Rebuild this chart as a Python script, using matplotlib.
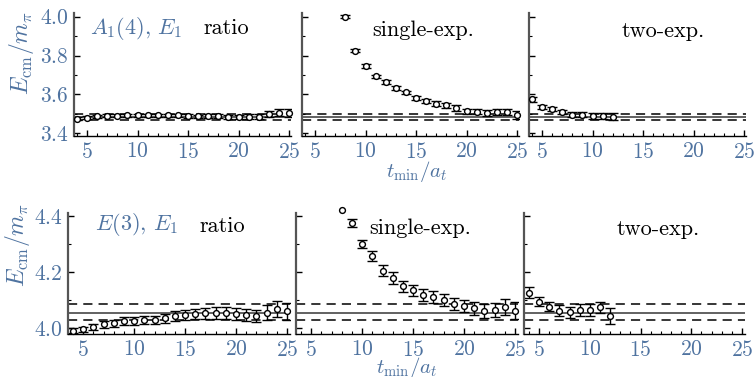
import numpy as np
import matplotlib.pyplot as plt

plt.rcParams['font.family'] = 'serif'
plt.rcParams['font.serif'] = ['cmr10', 'DejaVu Serif']
plt.rcParams['mathtext.fontset'] = 'cm'
plt.rcParams['axes.formatter.use_mathtext'] = True

# Daten oben: A1(4), E1
t_ratio = np.arange(4, 26)
y_ratio_top = [3.475, 3.48, 3.487, 3.49, 3.49, 3.492, 3.492, 3.493, 3.493, 3.492, 3.492,
               3.49, 3.487, 3.49, 3.487, 3.485, 3.485, 3.485, 3.485, 3.50, 3.505, 3.505]
e_ratio_top = [0.008, 0.007, 0.008, 0.008, 0.008, 0.008, 0.008, 0.008, 0.008, 0.008, 0.008,
               0.009, 0.009, 0.01, 0.01, 0.01, 0.01, 0.012, 0.012, 0.016, 0.018, 0.02]
t_single = np.arange(8, 26)
y_single_top = [4.0, 3.825, 3.745, 3.693, 3.663, 3.632, 3.61, 3.582, 3.567, 3.553,
                3.544, 3.53, 3.514, 3.512, 3.505, 3.509, 3.509, 3.495]
e_single_top = [0.008, 0.008, 0.009, 0.009, 0.009, 0.01, 0.01, 0.01, 0.01, 0.011,
                0.012, 0.013, 0.013, 0.014, 0.015, 0.016, 0.017, 0.022]
t_two = np.arange(4, 13)
y_two_top = [3.574, 3.535, 3.526, 3.509, 3.495, 3.495, 3.488, 3.488, 3.486]
e_two_top = [0.012, 0.009, 0.01, 0.012, 0.012, 0.013, 0.016, 0.017, 0.018]
fit_top = [3.47, 3.485, 3.50]

# Daten unten: E(3), E1
y_ratio_bot = [3.992, 3.996, 4.006, 4.014, 4.018, 4.026, 4.026, 4.03, 4.03, 4.036, 4.044,
               4.048, 4.051, 4.054, 4.054, 4.054, 4.05, 4.048, 4.044, 4.056, 4.069, 4.06]
e_ratio_bot = [0.008, 0.01, 0.011, 0.011, 0.012, 0.013, 0.014, 0.015, 0.015, 0.016, 0.017,
               0.018, 0.019, 0.02, 0.021, 0.021, 0.022, 0.022, 0.023, 0.026, 0.03, 0.03]
y_single_bot = [4.421, 4.375, 4.30, 4.258, 4.205, 4.179, 4.149, 4.135, 4.119, 4.111,
                4.101, 4.087, 4.08, 4.071, 4.063, 4.065, 4.075, 4.062]
e_single_bot = [0.0, 0.015, 0.015, 0.017, 0.02, 0.02, 0.02, 0.02, 0.02, 0.021,
                0.021, 0.022, 0.022, 0.024, 0.025, 0.026, 0.028, 0.03]
y_two_bot = [4.127, 4.095, 4.077, 4.063, 4.057, 4.065, 4.065, 4.075, 4.044]
e_two_bot = [0.02, 0.017, 0.017, 0.02, 0.02, 0.02, 0.02, 0.02, 0.03]
fit_bot = [4.03, 4.055, 4.085]

blau = '#4f73a0'
W, H = 755, 377

fig = plt.figure(figsize=(W / 100, H / 100), dpi=100)

def achse(x0, x1, y0, y1):
    return fig.add_axes([x0 / W, 1 - y1 / H, (x1 - x0) / W, (y1 - y0) / H])

def panel(ax, t, y, e, fit, xlim, ylim, major, minor, labels):
    ax.set_xlim(*xlim)
    ax.set_ylim(*ylim)
    ax.axhline(fit[1], color='#555555', lw=1.3, zorder=1)
    for v in (fit[0], fit[2]):
        ax.axhline(v, color='k', lw=1.1, ls=(0, (6, 4)), zorder=1)
    ax.errorbar(t, y, yerr=e, fmt='none', ecolor='k', elinewidth=1.0, capsize=3.8,
                capthick=1.0, zorder=2)
    ax.plot(t, y, 'o', ms=4.2, mfc='white', mec='k', mew=1.0, zorder=3, clip_on=False)
    for s in ('top', 'right'):
        ax.spines[s].set_visible(False)
    ax.spines['left'].set_color('#555555')
    ax.spines['left'].set_linewidth(1.6)
    ax.spines['bottom'].set_linewidth(1.0)
    ax.set_xticks([5, 10, 15, 20, 25])
    ax.set_xticks(np.arange(4, 26), minor=True)
    ax.set_yticks(major)
    ax.set_yticks(minor, minor=True)
    ax.tick_params(which='both', direction='in', labelsize=15.5, labelcolor=blau)
    ax.tick_params(axis='x', pad=4)
    ax.tick_params(axis='y', pad=4)
    ax.tick_params(which='major', length=4.5, width=1.0)
    ax.tick_params(which='minor', length=2.5, width=0.8)
    if not labels:
        ax.set_yticklabels([])
    else:
        ax.set_yticklabels(['$%.1f$' % v for v in major])
    ax.set_xticklabels(['$5$', '$10$', '$15$', '$20$', '$25$'])

# obere Reihe
xl_top = (3.7, 25.2)
yl_top = (3.386, 4.019)
maj_top = [3.4, 3.6, 3.8, 4.0]
min_top = [3.5, 3.7, 3.9]
a1 = achse(74, 291, 13, 136)
a2 = achse(302, 519, 13, 136)
a3 = achse(529, 746, 13, 136)
panel(a1, t_ratio, y_ratio_top, e_ratio_top, fit_top, xl_top, yl_top, maj_top, min_top, True)
panel(a2, t_single, y_single_top, e_single_top, fit_top, xl_top, yl_top, maj_top, min_top, False)
panel(a3, t_two, y_two_top, e_two_top, fit_top, xl_top, yl_top, maj_top, min_top, False)

# untere Reihe
xl_bot = (3.5, 25.3)
yl_bot = (3.98, 4.41)
maj_bot = [4.0, 4.2, 4.4]
min_bot = [4.1, 4.3]
b1 = achse(68, 290, 213, 334)
b2 = achse(296, 518, 213, 334)
b3 = achse(524, 745, 213, 334)
panel(b1, t_ratio, y_ratio_bot, e_ratio_bot, fit_bot, xl_bot, yl_bot, maj_bot, min_bot, True)
panel(b2, t_single, y_single_bot, e_single_bot, fit_bot, xl_bot, yl_bot, maj_bot, min_bot, False)
panel(b3, t_two, y_two_bot, e_two_bot, fit_bot, xl_bot, yl_bot, maj_bot, min_bot, False)

# Beschriftungen
fs = 16
fig.text(90 / W, 1 - 28 / H, r'$A_1(4),\,E_1$', color=blau, fontsize=fs, va='center')
fig.text(203 / W, 1 - 28 / H, 'ratio', color='k', fontsize=fs, va='center')
fig.text(423 / W, 1 - 30 / H, 'single-exp.', color='k', fontsize=fs, va='center', ha='center')
fig.text(663 / W, 1 - 31 / H, 'two-exp.', color='k', fontsize=fs, va='center', ha='center')
fig.text(95 / W, 1 - 225 / H, r'$E(3),\,E_1$', color=blau, fontsize=fs, va='center')
fig.text(199 / W, 1 - 226 / H, 'ratio', color='k', fontsize=fs, va='center')
fig.text(420 / W, 1 - 228 / H, 'single-exp.', color='k', fontsize=fs, va='center', ha='center')
fig.text(658 / W, 1 - 229 / H, 'two-exp.', color='k', fontsize=fs, va='center', ha='center')

fig.text(417 / W, 1 - 159 / H, r'$t_{\rm min}/a_t$', color=blau, fontsize=15, ha='center', va='top')
fig.text(407 / W, 1 - 355 / H, r'$t_{\rm min}/a_t$', color=blau, fontsize=15, ha='center', va='top')
fig.text(21 / W, 1 - 53 / H, r'$E_{\rm cm}/m_\pi$', color=blau, fontsize=17, rotation=90,
         ha='center', va='center')
fig.text(18 / W, 1 - 245 / H, r'$E_{\rm cm}/m_\pi$', color=blau, fontsize=17, rotation=90,
         ha='center', va='center')

plt.savefig('out.png', dpi=100)
